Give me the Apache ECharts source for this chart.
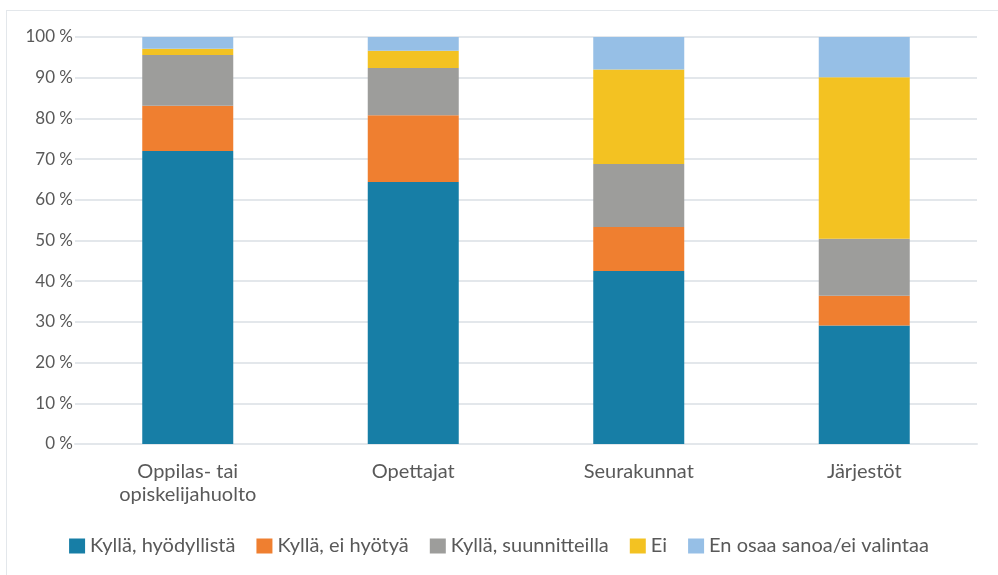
<!DOCTYPE html>
<html>
<head>
<meta charset="utf-8">
<script src="https://cdn.jsdelivr.net/npm/echarts@6/dist/echarts.min.js"></script>
<style>
  html, body { margin: 0; padding: 0; background: #fff; }
  #chart { width: 998px; height: 575px; }
  #frame {
    position: absolute; left: 6px; top: 10px; width: 992px; height: 565px;
    border-left: 1px solid #e3e7eb; border-top: 1px solid #e3e7eb;
    pointer-events: none;
  }
</style>
</head>
<body>
<div id="chart"></div>
<div id="frame"></div>
<script>
// kategoriat ja sarjat (prosentteina)
const categories = ['Oppilas- tai\nopiskelijahuolto', 'Opettajat', 'Seurakunnat', 'Järjestöt'];
const seriesNames = ['Kyllä, hyödyllistä', 'Kyllä, ei hyötyä', 'Kyllä, suunnitteilla', 'Ei', 'En osaa sanoa/ei valintaa'];
const hyodyllista = [72.0, 64.4, 42.5, 29.1];
const eiHyotya = [11.1, 16.4, 10.8, 7.3];
const suunnitteilla = [12.5, 11.6, 15.5, 14.0];
const ei = [1.5, 4.2, 23.2, 39.7];
const enOsaa = [2.9, 3.4, 8.0, 9.9];
const colors = ['#177ea6', '#ef7f30', '#9d9d9b', '#f3c222', '#96bfe6'];

const valueLists = [hyodyllista, eiHyotya, suunnitteilla, ei, enOsaa];
const font = 'Lato, "Open Sans", sans-serif';

const chart = echarts.init(document.getElementById('chart'));
const option = {
    animation: false,
    color: colors,
    grid: {
        left: 75,
        right: 21,
        top: 37,
        bottom: 131
    },
    legend: {
        data: seriesNames,
        top: 531,
        left: 'center',
        icon: 'rect',
        itemWidth: 16,
        itemHeight: 15,
        itemGap: 21,
        textStyle: { color: '#595959', fontSize: 20, fontFamily: font }
    },
    xAxis: {
        type: 'category',
        data: categories,
        axisLine: { lineStyle: { color: '#e3e7eb', width: 2 } },
        axisTick: { show: false },
        axisLabel: {
            color: '#595959',
            fontSize: 20,
            fontFamily: font,
            lineHeight: 23,
            margin: 16
        }
    },
    yAxis: {
        type: 'value',
        min: 0,
        max: 100,
        interval: 10,
        axisLine: { show: false },
        axisTick: { show: false },
        splitLine: { lineStyle: { color: '#e3e7eb', width: 2 } },
        axisLabel: {
            color: '#595959',
            fontSize: 17,
            fontFamily: font,
            margin: 2,
            formatter: v => v + ' %'
        }
    },
    series: seriesNames.map((name, i) => ({
        name: name,
        type: 'bar',
        stack: 'Total',
        barWidth: 91,
        data: valueLists[i]
    }))
};
chart.setOption(option);
</script>
</body>
</html>
